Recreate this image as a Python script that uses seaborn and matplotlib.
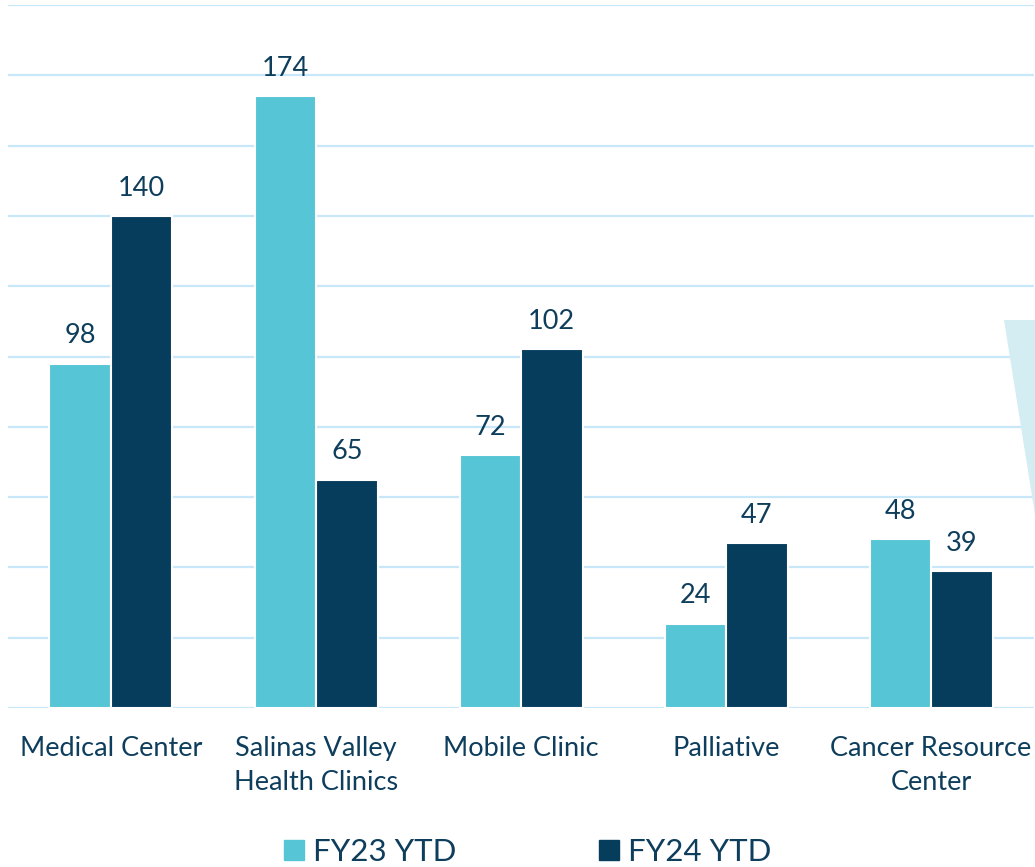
import pandas as pd
import seaborn as sns
import matplotlib.pyplot as plt
from matplotlib.lines import Line2D
from matplotlib.patches import Polygon

# data
categories = ["Medical Center", "Salinas Valley\nHealth Clinics", "Mobile Clinic",
              "Palliative", "Cancer Resource\nCenter"]
fy23 = [98, 174, 72, 24, 48]
fy24 = [140, 65, 102, 47, 39]
series = ["FY23 YTD", "FY24 YTD"]

light = "#56C5D5"
dark = "#073D5C"
txt = "#0E3E5C"
grid = "#C8E7F8"

df = pd.DataFrame({
    "category": categories * 2,
    "value": fy23 + fy24,
    "period": [series[0]] * len(fy23) + [series[1]] * len(fy24),
})

sns.set_style("white")
plt.rcParams["font.family"] = ["Lato", "DejaVu Sans"]

fig = plt.figure(figsize=(10.35, 8.67), dpi=100)
ax = fig.add_axes([0.0082, 0.1834, 0.9904, 0.8108])

sns.barplot(data=df, x="category", y="value", hue="period", palette=[light, dark],
            saturation=1, width=0.6, edgecolor="white", linewidth=1.5, ax=ax,
            legend=False, zorder=3)

for c in ax.containers:
    ax.bar_label(c, padding=11, fontsize=19.5, color=txt)

ax.set_ylim(0, 200)
ax.set_xlim(-0.5, 4.5)
ax.set_yticks(range(0, 201, 20))
ax.set_yticklabels([])
ax.yaxis.grid(True, color=grid, linewidth=1.6, zorder=0)
ax.set_axisbelow(True)
ax.tick_params(axis="both", length=0)
ax.tick_params(axis="x", pad=20)
for lab in ax.get_xticklabels():
    lab.set_fontsize(19.5)
    lab.set_color(txt)
    lab.set_linespacing(1.45)
ax.set_xlabel("")
ax.set_ylabel("")
for s in ax.spines.values():
    s.set_visible(False)

# decorative shape at the right edge
tri = Polygon([[1004, 867 - 320], [1035, 867 - 320], [1035, 867 - 515]], closed=True,
              transform=None, facecolor="#D4EDF3", edgecolor="none", zorder=1)
fig.patches.append(tri)

handles = [Line2D([], [], marker="s", linestyle="", markersize=14.5, color=light),
           Line2D([], [], marker="s", linestyle="", markersize=14.5, color=dark)]
fig.legend(handles, series, loc="lower center", bbox_to_anchor=(0.51, -0.031), ncol=2,
           frameon=False, fontsize=22.5, labelcolor=txt, handlelength=0.6,
           handletextpad=0.3, columnspacing=4.6)

fig.savefig("out.png", dpi=100)
